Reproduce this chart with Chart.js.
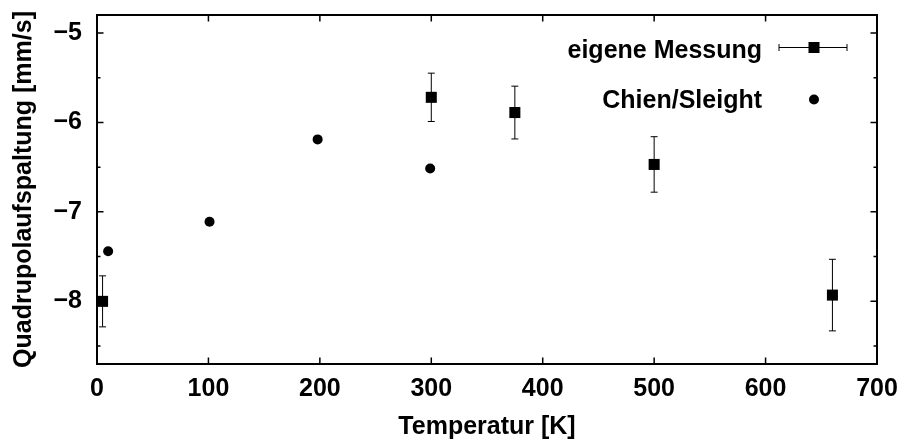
<!DOCTYPE html>
<html>
<head>
<meta charset="utf-8">
<script src="https://cdn.jsdelivr.net/npm/chart.js@4/dist/chart.umd.min.js"></script>
<style>
  html, body { margin: 0; padding: 0; background: #fff; }
  #wrap { width: 904px; height: 443px; }
</style>
</head>
<body>
<div id="wrap"><canvas id="c" width="904" height="443"></canvas></div>
<script>
// ---- data ----
const seriesNames = ['eigene Messung', 'Chien/Sleight'];
const ownT = [5, 300, 375, 500, 660];
const ownQ = [-8.00, -5.72, -5.89, -6.47, -7.93];
const ownErr = [0.285, 0.27, 0.295, 0.31, 0.40];
const litT = [10, 101, 198, 299];
const litQ = [-7.44, -7.11, -6.19, -6.515];
const xTicks = [0, 100, 200, 300, 400, 500, 600, 700];
const yTicks = [-8, -7, -6, -5];
const yMinorTicks = [-8.5, -7.5, -6.5, -5.5];
const xTitle = 'Temperatur [K]';
const yTitle = 'Quadrupolaufspaltung [mm/s]';

const FONT = 'Liberation Sans, Arial, Helvetica, sans-serif';

const framePlugin = {
  id: 'frame',
  beforeDatasetsDraw(chart) {
    const ctx = chart.ctx;
    const xs = chart.scales.x, ys = chart.scales.y;
    ctx.save();
    ctx.strokeStyle = '#000';
    ctx.lineWidth = 1;
    ownT.forEach((t, i) => {
      const px = xs.getPixelForValue(t);
      const yTop = ys.getPixelForValue(ownQ[i] + ownErr[i]);
      const yBot = ys.getPixelForValue(ownQ[i] - ownErr[i]);
      ctx.beginPath();
      ctx.moveTo(px, yTop); ctx.lineTo(px, yBot);
      ctx.moveTo(px - 3.5, yTop); ctx.lineTo(px + 3.5, yTop);
      ctx.moveTo(px - 3.5, yBot); ctx.lineTo(px + 3.5, yBot);
      ctx.stroke();
    });
    ctx.restore();
  },
  afterDraw(chart) {
    const ctx = chart.ctx;
    const a = chart.chartArea;
    const xs = chart.scales.x, ys = chart.scales.y;
    ctx.save();
    ctx.strokeStyle = '#000';
    // ticks
    ctx.lineWidth = 1.5;
    ctx.beginPath();
    xTicks.forEach(v => {
      const px = xs.getPixelForValue(v);
      ctx.moveTo(px, a.bottom); ctx.lineTo(px, a.bottom - 6.5);
      ctx.moveTo(px, a.top); ctx.lineTo(px, a.top + 6.5);
    });
    yTicks.forEach(v => {
      const py = ys.getPixelForValue(v);
      ctx.moveTo(a.left, py); ctx.lineTo(a.left + 6.5, py);
      ctx.moveTo(a.right, py); ctx.lineTo(a.right - 6.5, py);
    });
    yMinorTicks.forEach(v => {
      const py = ys.getPixelForValue(v);
      ctx.moveTo(a.left, py); ctx.lineTo(a.left + 3.5, py);
      ctx.moveTo(a.right, py); ctx.lineTo(a.right - 3.5, py);
    });
    ctx.stroke();
    // frame
    ctx.lineWidth = 2;
    ctx.strokeRect(a.left, a.top, a.right - a.left, a.bottom - a.top);

    // legend
    ctx.font = 'bold 25px ' + FONT;
    ctx.fillStyle = '#000';
    ctx.textAlign = 'right';
    ctx.textBaseline = 'alphabetic';
    ctx.fillText(seriesNames[0], 762, 58);
    ctx.fillText(seriesNames[1], 762, 108);
    // error-bar sample
    ctx.lineWidth = 1;
    ctx.beginPath();
    ctx.moveTo(779, 47.5); ctx.lineTo(847, 47.5);
    ctx.moveTo(779, 44); ctx.lineTo(779, 51);
    ctx.moveTo(847, 44); ctx.lineTo(847, 51);
    ctx.stroke();
    ctx.fillRect(808.5, 42, 11, 11);
    ctx.beginPath();
    ctx.arc(814, 99.5, 5, 0, Math.PI * 2);
    ctx.fill();
    ctx.restore();
  }
};

const minus = v => String(v).replace('-', '\u2212');

new Chart(document.getElementById('c'), {
  type: 'scatter',
  data: {
    datasets: [
      {
        label: seriesNames[0],
        data: ownT.map((t, i) => ({ x: t, y: ownQ[i] })),
        pointStyle: 'rect',
        pointRadius: 7.8,
        pointHoverRadius: 7.8,
        backgroundColor: '#000',
        borderWidth: 0
      },
      {
        label: seriesNames[1],
        data: litT.map((t, i) => ({ x: t, y: litQ[i] })),
        pointStyle: 'circle',
        pointRadius: 5,
        pointHoverRadius: 5,
        backgroundColor: '#000',
        borderWidth: 0
      }
    ]
  },
  options: {
    responsive: false,
    animation: false,
    devicePixelRatio: 1,
    layout: { padding: { left: 0, top: 15, right: 27, bottom: 0 } },
    plugins: { legend: { display: false }, tooltip: { enabled: false } },
    scales: {
      x: {
        type: 'linear',
        min: 0, max: 700,
        afterFit(s) { s.height = 79; s.paddingLeft = 0; s.paddingRight = 0; },
        afterBuildTicks(s) { s.ticks = xTicks.map(v => ({ value: v })); },
        grid: { display: false, drawTicks: false },
        border: { display: false },
        ticks: {
          padding: 10,
          color: '#000',
          maxRotation: 0,
          autoSkip: false,
          font: { family: FONT, size: 25, weight: 'bold' },
          callback: v => minus(v)
        },
        title: {
          display: true,
          text: xTitle,
          color: '#000',
          padding: { top: 0, bottom: 1 },
          font: { family: FONT, size: 25, weight: 'bold' }
        }
      },
      y: {
        type: 'linear',
        min: -8.7, max: -4.8,
        afterFit(s) { s.width = 97; s.paddingTop = 0; s.paddingBottom = 0; },
        afterBuildTicks(s) { s.ticks = yTicks.map(v => ({ value: v })); },
        grid: { display: false, drawTicks: false },
        border: { display: false },
        ticks: {
          padding: 15,
          color: '#000',
          autoSkip: false,
          font: { family: FONT, size: 25, weight: 'bold' },
          callback: v => minus(v)
        },
        title: {
          display: true,
          text: yTitle,
          color: '#000',
          padding: { top: 9, bottom: 0 },
          font: { family: FONT, size: 25, weight: 'bold' }
        }
      }
    }
  },
  plugins: [framePlugin]
});
</script>
</body>
</html>
